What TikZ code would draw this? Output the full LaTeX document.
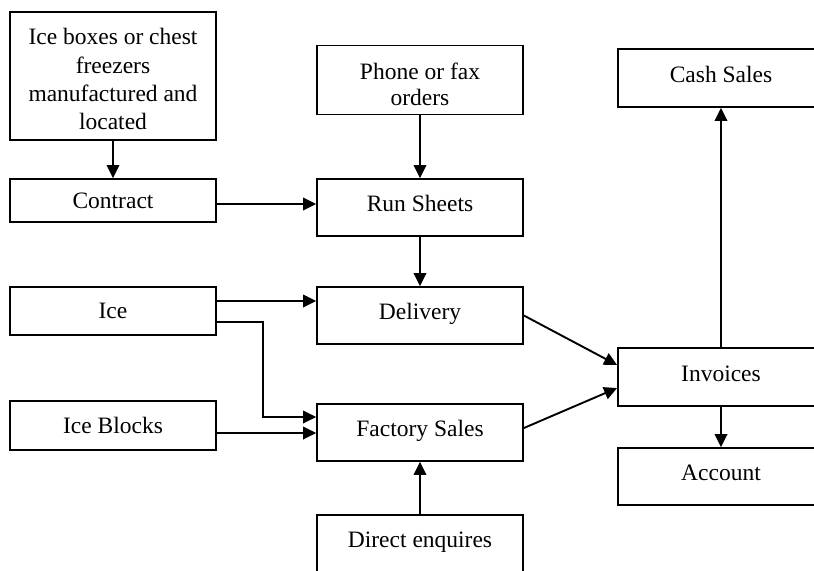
\documentclass[tikz,border=0pt]{standalone}
\usepackage{fontspec}
\setmainfont{Liberation Serif}
\usetikzlibrary{arrows.meta,calc}
\tikzset{
  box/.style={draw, line width=0.9pt, minimum width=103pt, inner sep=2pt,
    align=center, font=\fontsize{11.75}{14}\selectfont},
  oneline/.style={text height=8pt, text depth=4pt},
  flow/.style={line width=0.95pt, -{Triangle[length=6.5pt,width=6.3pt]}},
}
\begin{document}
\begin{tikzpicture}[x=0.5pt,y=-0.5pt]
\useasboundingbox (0,0) rectangle (814,570);
\clip (0,0) rectangle (814,570);

% left column: sources
\node[box, minimum height=64pt, font=\fontsize{11.75}{14.2}\selectfont] (icebox) at (113,76)
  {\rule{0pt}{11.5pt}Ice boxes or chest\\freezers\\manufactured and\\located};
\node[box, minimum height=21.5pt] (contract) at (113,200.5) {Contract};
\node[box, minimum height=24pt] (ice) at (113,311) {Ice};
\node[box, minimum height=24.5pt] (iceblocks) at (113,425.5) {Ice Blocks};

% middle column
\node[box, minimum height=34.5pt, font=\fontsize{11.75}{12.9}\selectfont] (phone) at (420,80)
  {\rule{0pt}{13pt}Phone or fax\\orders};
\node[box, oneline, minimum height=28.5pt] (run) at (420,207.5) {Run Sheets};
\node[box, oneline, minimum height=28.5pt] (delivery) at (420,315.5) {Delivery};
\node[box, oneline, minimum height=28.5pt] (factory) at (420,432.5) {Factory Sales};
\node[box, oneline, minimum height=28.5pt] (direct) at (420,543.5) {Direct enquires};

% right column
\node[box, oneline, minimum height=29pt] (cash) at (721,78) {Cash Sales};
\node[box, oneline, minimum height=29pt] (invoices) at (721,377) {Invoices};
\node[box, oneline, minimum height=28.5pt] (account) at (721,476.5) {Account};

% connectors
\draw[flow] (icebox.south) -- (contract.north);
\draw[flow] ([yshift=-1.75pt]contract.east) -- ([yshift=-1.75pt]contract.east -| run.west);
\draw[flow] (phone.south) -- (run.north);
\draw[flow] (run.south) -- (delivery.north);
\draw[flow] ([yshift=5pt]ice.east) -- ([yshift=5pt]ice.east -| delivery.west);
\draw[flow] ([yshift=-5.5pt]ice.east) -- ++(23pt,0) |- ([yshift=7.75pt]factory.west);
\draw[flow] ([yshift=-3.75pt]iceblocks.east) -- ([yshift=-3.75pt]iceblocks.east -| factory.west);
\draw[flow] (direct.north) -- (factory.south);
\draw[flow] (delivery.east) -- ([yshift=6pt]invoices.west);
\draw[flow] ([yshift=2.25pt]factory.east) -- ([yshift=-5.5pt]invoices.west);
\draw[flow] (invoices.north) -- (cash.south);
\draw[flow] (invoices.south) -- (account.north);
\end{tikzpicture}
\end{document}
